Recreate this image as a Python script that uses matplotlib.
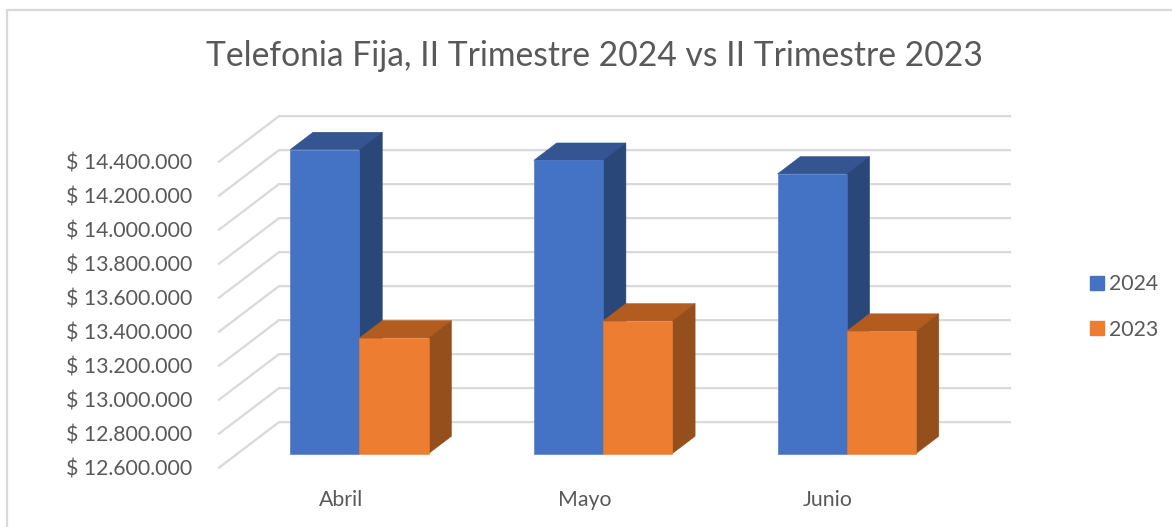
import numpy as np
import matplotlib.pyplot as plt
from matplotlib.lines import Line2D
from matplotlib.patches import Patch

plt.rcParams['font.family'] = ['Lato', 'DejaVu Sans']

meses = ['Abril', 'Mayo', 'Junio']
serie_2024 = [14388000, 14325000, 14245000]
serie_2023 = [13280000, 13380000, 13320000]
ticks = [12600000, 12800000, 13000000, 13200000, 13400000,
         13600000, 13800000, 14000000, 14200000, 14400000]

TEXTO = '#595959'
GRID = '#d9d9d9'
W, H = 1172, 527

# front plane of the fake 3d box, in pixels
ax_left, ax_right, ax_top, ax_bottom = 219, 950, 161.7, 467.7

# one unit of depth moves this much in data units (back wall is depth 1)
depth_x = 60 / ((ax_right - ax_left) / 3)
depth_y = 45.6 * (ticks[-1] - ticks[0]) / (ax_bottom - ax_top)


def project(x, v, d):
    return x + d * depth_x, v + d * depth_y


def draw_bar(ax, x0, x1, base, top, colors, d0=0.31, d1=0.69):
    front, roof, side = colors
    # top
    xs, ys = zip(project(x0, top, d0), project(x1, top, d0),
                 project(x1, top, d1), project(x0, top, d1))
    ax.fill(xs, ys, facecolor=roof, edgecolor=roof, lw=0.4, clip_on=False, zorder=3)
    # right side
    xs, ys = zip(project(x1, base, d0), project(x1, base, d1),
                 project(x1, top, d1), project(x1, top, d0))
    ax.fill(xs, ys, facecolor=side, edgecolor=side, lw=0.4, clip_on=False, zorder=3)
    # front
    xs, ys = zip(project(x0, base, d0), project(x1, base, d0),
                 project(x1, top, d0), project(x0, top, d0))
    ax.fill(xs, ys, facecolor=front, edgecolor=front, lw=0.4, clip_on=False, zorder=3)


fig = plt.figure(figsize=(W / 100, H / 100), dpi=100)
ax = fig.add_axes([ax_left / W, 1 - ax_bottom / H,
                   (ax_right - ax_left) / W, (ax_bottom - ax_top) / H])
ax.set_xlim(-0.5, 2.5)
ax.set_ylim(ticks[0], ticks[-1])
for s in ax.spines.values():
    s.set_visible(False)

ax.set_yticks(ticks)
ax.set_yticklabels(['$ ' + f'{t:,}'.replace(',', '.') for t in ticks])
ax.set_xticks(range(len(meses)))
ax.set_xticklabels(meses)
ax.tick_params(axis='y', length=0, pad=19, labelsize=15.3, labelcolor=TEXTO)
ax.tick_params(axis='x', length=0, pad=16, labelsize=15.3, labelcolor=TEXTO)

# gridlines: slanted on the left wall, flat on the back wall
for t in ticks:
    xa, ya = project(-0.5, t, 0)
    xb, yb = project(-0.5, t, 1)
    xc, yc = project(2.5, t, 1)
    ax.plot([xa, xb, xc], [ya, yb, yc], color=GRID, lw=1.6, clip_on=False,
            zorder=1, solid_joinstyle='miter')

ancho = 0.284
for i in range(len(meses)):
    draw_bar(ax, i - ancho, i, ticks[0], serie_2024[i],
             ('#4472c4', '#345591', '#2a4779'))
    draw_bar(ax, i, i + ancho, ticks[0], serie_2023[i],
             ('#ed7d31', '#b25c20', '#954f1c'))

fig.text(594 / W, 1 - 55.5 / H, 'Telefonia Fija, II Trimestre 2024 vs II Trimestre 2023',
         ha='center', va='center', fontsize=24.2, color=TEXTO)

handles = [Patch(color='#4472c4', label='2024'), Patch(color='#ed7d31', label='2023')]
fig.legend(handles=handles, loc='center left', bbox_to_anchor=(1090 / W, 1 - 307 / H),
           frameon=False, fontsize=15.3, labelcolor=TEXTO, handlelength=0.66,
           handleheight=0.66, handletextpad=0.25, labelspacing=1.2,
           borderpad=0, borderaxespad=0)

# chart frame, only left and top are inside the crop
fig.add_artist(Line2D([7 / W, 7 / W, 1], [0, 1 - 10 / H, 1 - 10 / H], color=GRID, lw=1.6))

fig.savefig('out.png', dpi=100)
